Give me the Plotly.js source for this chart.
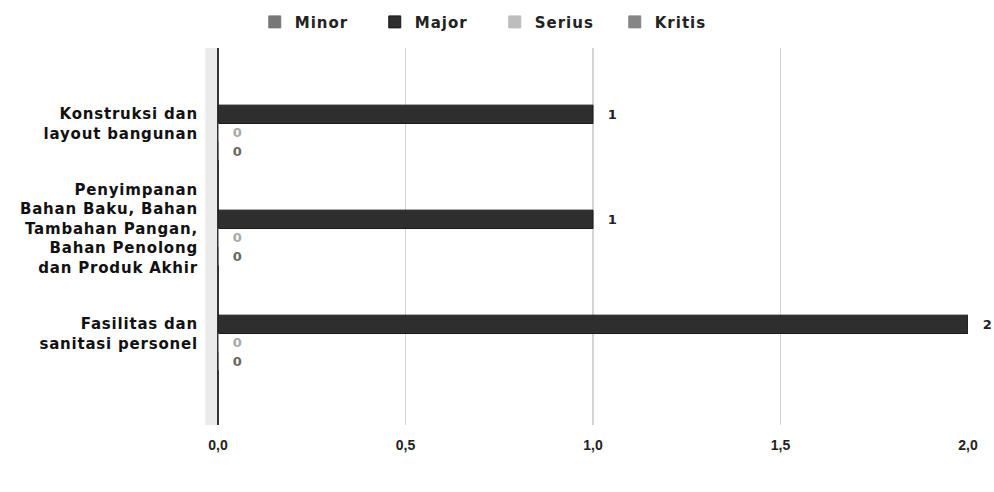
<!DOCTYPE html>
<html>
<head>
<meta charset="utf-8">
<script src="https://cdn.plot.ly/plotly-3.0.1.min.js"></script>
<style>
html,body{margin:0;padding:0;background:#fff;}
#chart{width:994px;height:492px;}
#chart g.ytick text{letter-spacing:0.8px;}
#chart text.legendtext{letter-spacing:1px;}
</style>
</head>
<body>
<div id="chart"></div>
<script>
const categories = [
  "Konstruksi dan<br>layout bangunan",
  "Penyimpanan<br>Bahan Baku, Bahan<br>Tambahan Pangan,<br>Bahan Penolong<br>dan Produk Akhir",
  "Fasilitas dan<br>sanitasi personel"
];
const seriesNames = ["Minor", "Major", "Serius", "Kritis"];
const minorValues = [null, null, null];
const majorValues = [1, 1, 2];
const seriusValues = [0, 0, 0];
const kritisValues = [0, 0, 0];
const xTicks = [0, 0.5, 1, 1.5, 2];

const colors = ["#777777", "#2e2e2e", "#bdbdbd", "#858585"];
const textColors = ["#777777", "#222222", "#a8a8a8", "#666666"];
const allValues = [minorValues, majorValues, seriusValues, kritisValues];
const wide = "DejaVu Sans, Verdana, sans-serif";

const traces = seriesNames.map((name, i) => ({
  type: "bar",
  orientation: "h",
  name: name,
  y: categories,
  x: allValues[i],
  marker: {color: colors[i], line: {color: i === 1 ? "#1a1a1a" : colors[i], width: 1}},
  text: allValues[i].map(v => v === null ? "" : "  \u2009" + v),
  textposition: "outside",
  cliponaxis: false,
  textfont: {family: wide, size: 13, weight: "bold", color: textColors[i]},
  hoverinfo: "skip"
}));

const layout = {
  width: 994,
  height: 492,
  paper_bgcolor: "#ffffff",
  plot_bgcolor: "#ffffff",
  separators: ",.",
  barmode: "group",
  bargap: 0.3,
  bargroupgap: 0,
  margin: {l: 218, r: 26, t: 48, b: 67, autoexpand: false},
  font: {family: wide, size: 14, color: "#111", weight: "bold"},
  showlegend: true,
  legend: {
    orientation: "h",
    xref: "paper", x: 0.369, xanchor: "center",
    yref: "container", y: 0.955, yanchor: "middle",
    font: {family: wide, size: 15, weight: "bold", color: "#222"},
    entrywidth: 75, entrywidthmode: "pixels",
    traceorder: "normal"
  },
  xaxis: {
    range: [0, 2],
    tickvals: xTicks,
    tickformat: ".1f",
    showgrid: true,
    gridcolor: "#d4d4d4",
    gridwidth: 1.5,
    zeroline: true,
    zerolinecolor: "#333333",
    zerolinewidth: 1.5,
    ticks: "outside",
    ticklen: 7,
    tickcolor: "rgba(0,0,0,0)",
    tickfont: {family: "Liberation Sans, Arial, sans-serif", size: 14, weight: "bold", color: "#222"},
    showline: false,
    fixedrange: true
  },
  yaxis: {
    type: "category",
    range: [2.871, -0.719],
    ticks: "outside",
    ticklen: 16,
    tickcolor: "rgba(0,0,0,0)",
    tickfont: {family: wide, size: 15, weight: "bold", color: "#111"},
    showgrid: false,
    zeroline: false,
    showline: false,
    fixedrange: true
  },
  shapes: [
    {type: "rect", xref: "paper", yref: "paper", x0: -0.017, x1: 0, y0: 0, y1: 1,
     fillcolor: "#ebebeb", line: {width: 0}, layer: "below"}
  ]
};

Plotly.newPlot("chart", traces, layout, {displayModeBar: false, staticPlot: true});
</script>
</body>
</html>
